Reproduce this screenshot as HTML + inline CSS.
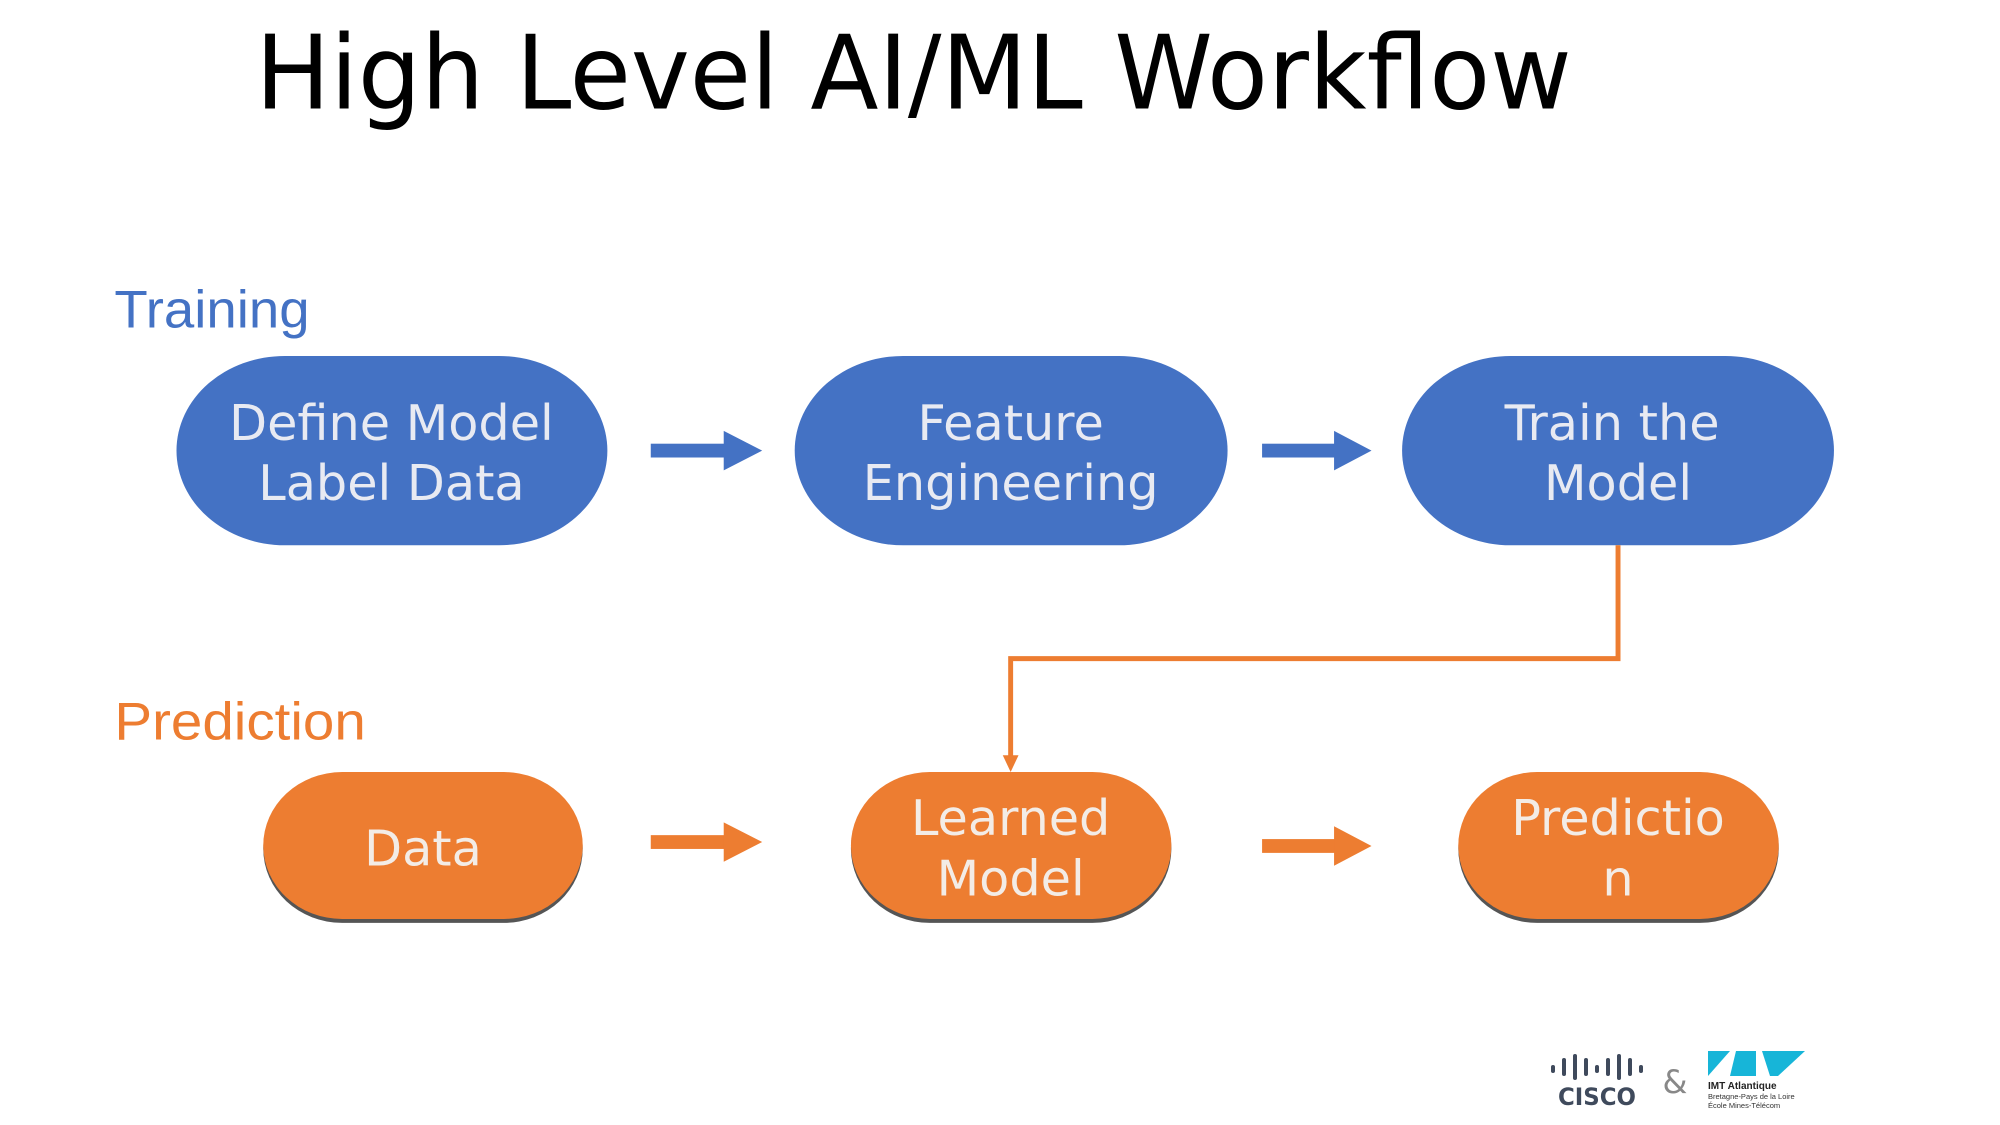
<!DOCTYPE html>
<html><head><meta charset="utf-8"><style>
html,body{margin:0;padding:0;background:#fff;}
svg{display:block}
</style></head><body>
<svg width="2000" height="1125" viewBox="0 0 2000 1125" xmlns="http://www.w3.org/2000/svg">
<g transform="scale(0.986)">
<text x="259" y="110" font-family="DejaVu Sans, sans-serif" font-size="104" fill="#000" textLength="1335" lengthAdjust="spacingAndGlyphs">High Level AI/ML Workflow</text>
<text x="116" y="332" font-family="Liberation Sans, sans-serif" font-size="54" fill="#4472C4" textLength="198" lengthAdjust="spacingAndGlyphs">Training</text>
<text x="116" y="750" font-family="Liberation Sans, sans-serif" font-size="54" fill="#ED7D31" textLength="255" lengthAdjust="spacingAndGlyphs">Prediction</text>

<g fill="#4472C4">
<rect x="179" y="361" width="437" height="192" rx="110" ry="96"/>
<rect x="806" y="361" width="439" height="192" rx="110" ry="96"/>
<rect x="1422" y="361" width="438" height="192" rx="110" ry="96"/>
<rect x="660" y="450" width="76" height="14"/><polygon points="734,437 773,457 734,477"/>
<rect x="1280" y="450" width="76" height="14"/><polygon points="1353,437 1391,457 1353,477"/>
</g>
<g font-family="DejaVu Sans, sans-serif" font-size="50" fill="#e8eaf2" text-anchor="middle">
<text x="397" y="446">Define Model</text><text x="397" y="507">Label Data</text>
<text x="1025" y="446">Feature</text><text x="1025" y="507">Engineering</text>
<text x="1635" y="446">Train the</text><text x="1641" y="507">Model</text>
</g>

<polyline points="1641,553 1641,668 1025,668 1025,770" fill="none" stroke="#ED7D31" stroke-width="5"/>
<polygon points="1017,766 1033,766 1025,783" fill="#ED7D31"/>

<g>
<rect x="267" y="785" width="324" height="151" rx="80" ry="75" fill="#555"/>
<rect x="863" y="785" width="325" height="151" rx="80" ry="75" fill="#555"/>
<rect x="1479" y="785" width="325" height="151" rx="80" ry="75" fill="#555"/>
</g>
<g fill="#ED7D31">
<rect x="267" y="783" width="324" height="149" rx="80" ry="75"/>
<rect x="863" y="783" width="325" height="149" rx="80" ry="75"/>
<rect x="1479" y="783" width="325" height="149" rx="80" ry="75"/>
<rect x="660" y="847" width="76" height="14"/><polygon points="734,834 773,854 734,874"/>
<rect x="1280" y="851" width="76" height="14"/><polygon points="1353,838 1391,858 1353,878"/>
</g>
<g font-family="DejaVu Sans, sans-serif" font-size="50" fill="#f3ece6" text-anchor="middle">
<text x="429" y="878">Data</text>
<text x="1025" y="847">Learned</text><text x="1025" y="908">Model</text>
<text x="1641" y="847">Predictio</text><text x="1641" y="908">n</text>
</g>
</g>

<g transform="translate(-22,-10)">
<g fill="#3f4a5c">
<rect x="1573" y="1075" width="4" height="8" rx="2"/>
<rect x="1584" y="1068" width="4" height="18" rx="2"/>
<rect x="1595" y="1064" width="4" height="26" rx="2"/>
<rect x="1606" y="1068" width="4" height="18" rx="2"/>
<rect x="1617" y="1075" width="4" height="8" rx="2"/>
<rect x="1628" y="1068" width="4" height="18" rx="2"/>
<rect x="1639" y="1064" width="4" height="26" rx="2"/>
<rect x="1650" y="1068" width="4" height="18" rx="2"/>
<rect x="1661" y="1075" width="4" height="8" rx="2"/>
<text x="1619" y="1115" font-family="DejaVu Sans, sans-serif" font-weight="bold" font-size="24" text-anchor="middle" textLength="78" lengthAdjust="spacingAndGlyphs">CISCO</text>
</g>
<text x="1697" y="1103" font-family="DejaVu Sans, sans-serif" font-size="32" fill="#888" text-anchor="middle">&amp;</text>
<g fill="#17b5d8">
<polygon points="1730,1061 1752,1061 1730,1086"/>
<polygon points="1758,1061 1778,1061 1778,1086 1752,1086"/>
<polygon points="1784,1061 1827,1061 1800,1086 1792,1086"/>
</g>
<text x="1730" y="1099" font-family="Liberation Sans, sans-serif" font-weight="bold" font-size="10" fill="#222">IMT Atlantique</text>
<text x="1730" y="1109" font-family="Liberation Sans, sans-serif" font-size="7.5" fill="#333">Bretagne-Pays de la Loire</text>
<text x="1730" y="1118" font-family="Liberation Sans, sans-serif" font-size="7.5" fill="#333">École Mines-Télécom</text>
</g>
</svg>
</body></html>
